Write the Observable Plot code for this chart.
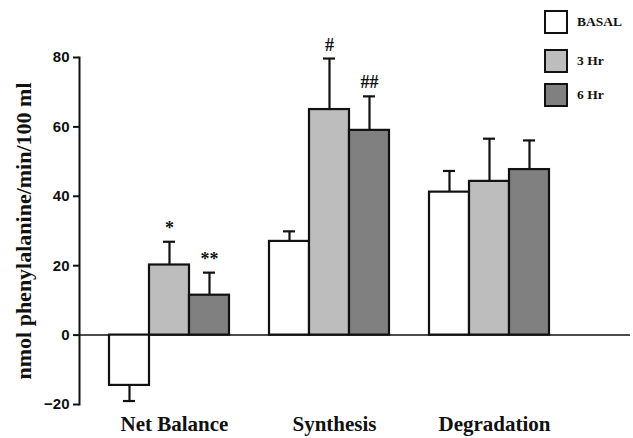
<!DOCTYPE html>
<html>
<head>
<meta charset="utf-8">
<script src="https://cdn.jsdelivr.net/npm/d3@7"></script>
<script src="https://cdn.jsdelivr.net/npm/@observablehq/plot@0.6"></script>
<style>
  body { margin: 0; background: white; }
  #wrap { position: relative; width: 633px; height: 438px; overflow: hidden; }
  #chart svg { display: block; }
  #chart svg [aria-label="y-axis tick label"] text { font-family: "Liberation Sans", Arial, sans-serif; font-weight: 700; font-size: 15px; fill: #111; }
  #chart svg [aria-label="x-axis tick label"] text { font-family: "Liberation Serif", serif; font-weight: 700; font-size: 21px; fill: #111; }
  #ylabel { position: absolute; left: 24px; top: 231px; transform: translate(-50%, -50%) rotate(-90deg); white-space: nowrap; font-family: "Liberation Serif", serif; font-weight: 700; font-size: 22px; color: #111; }
  .legend { position: absolute; left: 544px; top: 0; font-family: "Liberation Serif", serif; font-weight: 700; font-size: 13.5px; color: #111; }
  .legend .item { position: absolute; left: 0; display: flex; align-items: center; white-space: nowrap; }
  .legend .sw { width: 20px; height: 20px; border: 2px solid #111; margin-right: 9px; box-sizing: content-box; }
</style>
</head>
<body>
<div id="wrap">
  <div id="chart"></div>
  <div id="ylabel"></div>
  <div class="legend" id="legend"></div>
</div>
<script>
const categories = ["Net Balance", "Synthesis", "Degradation"];
const series = ["BASAL", "3 Hr", "6 Hr"];
const seriesColors = ["#ffffff", "#bdbdbd", "#808080"];
const basal = [-14.5, 27.0, 41.2];
const hr3 = [20.2, 65.0, 44.3];
const hr6 = [11.5, 59.0, 47.7];
const basalErr = [4.5, 2.9, 6.1];
const hr3Err = [6.7, 14.7, 12.3];
const hr6Err = [6.5, 9.8, 8.4];
const basalNote = ["", "", ""];
const hr3Note = ["*", "#", ""];
const hr6Note = ["**", "##", ""];
const yTicks = [-20, 0, 20, 40, 60, 80];
const yLabel = "nmol phenylalanine/min/100 ml";

const values = [basal, hr3, hr6];
const errs = [basalErr, hr3Err, hr6Err];
const notes = [basalNote, hr3Note, hr6Note];

const rows = [];
const xDomain = [];
categories.forEach((c, i) => {
  series.forEach((s, j) => {
    const key = c + "|" + s;
    xDomain.push(key);
    const v = values[j][i];
    const e = errs[j][i];
    rows.push({key, category: c, series: s, value: v, end: v < 0 ? v - e : v + e, note: notes[j][i]});
  });
  if (i < categories.length - 1) xDomain.push("gap" + i);
});
const midKeys = categories.map(c => c + "|" + series[1]);

const plot = Plot.plot({
  width: 633,
  height: 438,
  marginTop: 57,
  marginBottom: 34,
  marginLeft: 79,
  marginRight: 3,
  style: { background: "white", color: "#111", overflow: "visible" },
  x: { type: "band", domain: xDomain, range: [106, 552], padding: 0, axis: null },
  y: { domain: [-20, 80], axis: null },
  color: { domain: series, range: seriesColors },
  marks: [
    Plot.ruleY([0], { stroke: "#111", strokeWidth: 1.5 }),
    Plot.barY(rows, { x: "key", y: "value", fill: "series", stroke: "#111", strokeWidth: 2.2 }),
    Plot.ruleX(rows, { x: "key", y1: "value", y2: "end", stroke: "#111", strokeWidth: 2.2 }),
    Plot.tickY(rows, { x: "key", y: "end", stroke: "#111", strokeWidth: 2.2, insetLeft: 14, insetRight: 14 }),
    Plot.text(rows.filter(d => d.note), { x: "key", y: "end", text: "note", lineAnchor: "bottom", dy: -8, fontFamily: "Liberation Serif, serif", fontWeight: "bold", fontSize: 18, fill: "#111" }),
    Plot.frame({ anchor: "left", stroke: "#111", strokeWidth: 2 }),
    Plot.axisY({ ticks: yTicks, tickSize: 6, tickPadding: 4, strokeWidth: 2, label: null }),
    Plot.axisX({ ticks: midKeys, tickFormat: k => k.split("|")[0], tickSize: 0, tickPadding: 0, dy: 12, dx: 5, label: null })
  ]
});
document.getElementById("chart").appendChild(plot);
document.getElementById("ylabel").textContent = yLabel;

const legend = document.getElementById("legend");
const legendTops = [10, 49, 83];
series.forEach((s, j) => {
  const item = document.createElement("div");
  item.className = "item";
  item.style.top = legendTops[j] + "px";
  const sw = document.createElement("div");
  sw.className = "sw";
  sw.style.background = seriesColors[j];
  const t = document.createElement("span");
  t.textContent = s;
  item.appendChild(sw);
  item.appendChild(t);
  legend.appendChild(item);
});
</script>
</body>
</html>
